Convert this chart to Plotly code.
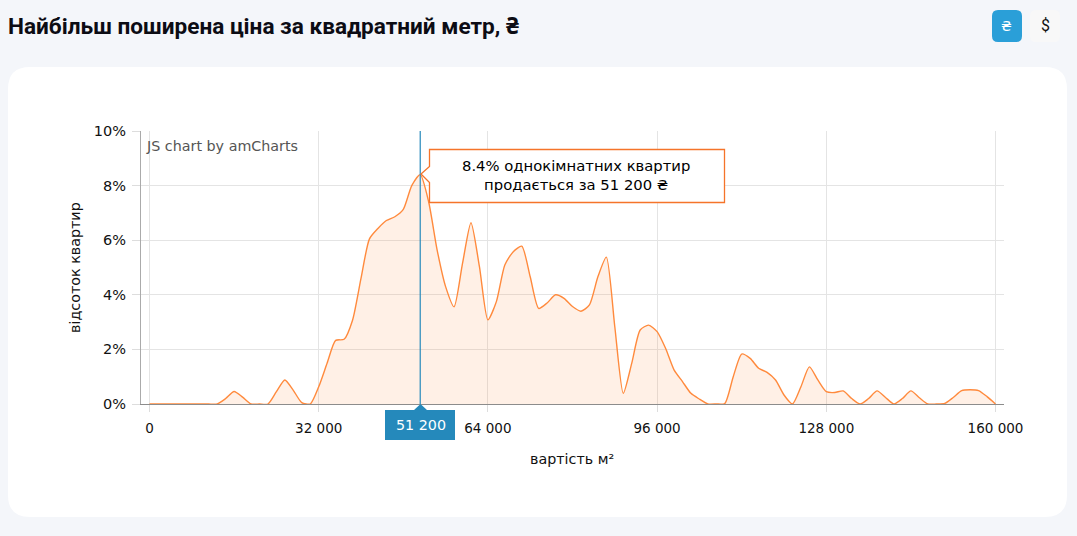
import plotly.graph_objects as go

W = 1077
H = 536

# price per m2, one point every 1600
prices = [i * 1600 for i in range(101)]
percents = [
    0, 0, 0, 0, 0, 0, 0, 0, 0, 0.2,
    0.46, 0.25, 0, 0, 0, 0.45, 0.88, 0.5, 0.05, 0,
    0.63, 1.5, 2.33, 2.37, 3.07, 4.6, 6.05, 6.43, 6.72, 6.86,
    7.13, 8.0, 8.4, 7.4, 5.64, 4.3, 3.56, 5.15, 6.64, 5.03,
    3.08, 3.75, 5.09, 5.58, 5.78, 4.66, 3.5, 3.7, 4.0, 3.87,
    3.57, 3.4, 3.63, 4.66, 5.38, 2.83, 0.39, 1.49, 2.71, 2.89,
    2.65, 2.04, 1.25, 0.82, 0.39, 0.18, 0, 0, 0.02, 1.0,
    1.83, 1.67, 1.31, 1.16, 0.88, 0.33, 0, 0.63, 1.36, 0.88,
    0.45, 0.42, 0.48, 0.2, 0, 0.2, 0.48, 0.24, 0, 0.2,
    0.48, 0.23, 0, 0, 0.02, 0.24, 0.49, 0.52, 0.49, 0.27,
    0,
]
x_ticks = [0, 32000, 64000, 96000, 128000, 160000]
x_labels = ["0", "32 000", "64 000", "96 000", "128 000", "160 000"]
y_ticks = [0, 2, 4, 6, 8, 10]
y_labels = ["0%", "2%", "4%", "6%", "8%", "10%"]
cursor_price = 51200
cursor_label = "51 200"
title = "Найбільш поширена ціна за квадратний метр, "
tooltip = "8.4% однокімнатних квартир<br>продається за 51 200 ₴"

ORANGE = "#ff8a3d"
BLUE = "#2589bb"
BG = "#f4f6fa"
FONT = "DejaVu Sans"


def px(x):
    return x / W


def py(y):
    return 1 - y / H


def rounded(x0, y0, x1, y1, r):
    # rounded box in page pixels, as a path in paper coordinates
    return (
        f"M {px(x0 + r)} {py(y0)} L {px(x1 - r)} {py(y0)} Q {px(x1)} {py(y0)} {px(x1)} {py(y0 + r)} "
        f"L {px(x1)} {py(y1 - r)} Q {px(x1)} {py(y1)} {px(x1 - r)} {py(y1)} "
        f"L {px(x0 + r)} {py(y1)} Q {px(x0)} {py(y1)} {px(x0)} {py(y1 - r)} "
        f"L {px(x0)} {py(y0 + r)} Q {px(x0)} {py(y0)} {px(x0 + r)} {py(y0)} Z"
    )


def poly(points):
    return "M " + " L ".join(f"{px(a)} {py(b)}" for a, b in points) + " Z"


def label(x, y, text, size=14.3, color="#111", family=FONT, anchor="center", **kw):
    return dict(xref="paper", yref="paper", x=px(x), y=py(y), text=text, showarrow=False,
                xanchor=anchor, yanchor="middle", font=dict(size=size, color=color, family=family), **kw)


fig = go.Figure()
fig.add_trace(go.Scatter(
    x=prices, y=percents, mode="lines",
    line=dict(color=ORANGE, width=1.4, shape="spline", smoothing=0.65),
    fill="tozeroy", fillcolor="rgba(255,130,50,0.12)", hoverinfo="skip",
))

shapes = [
    dict(type="path", path=rounded(8, 67, 1067, 517, 22), xref="paper", yref="paper",
         fillcolor="white", line_width=0, layer="below"),
    dict(type="path", path=rounded(992, 10, 1022, 42, 6), xref="paper", yref="paper",
         fillcolor="#2a9fd8", line_width=0, layer="below"),
    dict(type="path", path=rounded(1030, 10, 1060, 42, 6), xref="paper", yref="paper",
         fillcolor="#f8f8f8", line_width=0, layer="below"),
    dict(type="line", x0=cursor_price, x1=cursor_price, y0=0, y1=1, xref="x", yref="y domain",
         line=dict(color=BLUE, width=1.2)),
    dict(type="path", xref="paper", yref="paper", fillcolor="white", line=dict(color="#f5742a", width=1.3),
         path=poly([(429.5, 149.5), (724.5, 149.5), (724.5, 202.5), (429.5, 202.5), (429.5, 182.5), (421, 174), (429.5, 166.5)])),
    dict(type="path", xref="paper", yref="paper", fillcolor=BLUE, line_width=0,
         path=poly([(385, 410), (414, 410), (420.5, 404), (427, 410), (455, 410), (455, 440), (385, 440)])),
]

hryvnia = "<span style=\"font-family:'Noto Sans'\">₴</span>"
annotations = [
    label(5.5, 26, f"<b>{title}{hryvnia}</b>", size=22.6, color="#0c0c14", family="Roboto", anchor="left"),
    label(1007, 26, "₴", size=14, color="white"),
    label(1045, 26, "$", size=16, color="#111", family="Roboto"),
    label(144, 146, "JS chart by amCharts", color="#555", anchor="left"),
    label(576, 174.5, tooltip, size=14.8, color="#000"),
    label(420.5, 425, cursor_label, color="white"),
    label(75, 268, "відсоток квартир", textangle=-90),
    label(572, 459, "вартість м²"),
]

fig.update_layout(
    width=W, height=H, autosize=False,
    margin=dict(l=0, r=0, t=0, b=0, autoexpand=False),
    paper_bgcolor=BG, plot_bgcolor="rgba(0,0,0,0)",
    showlegend=False,
    font=dict(family=FONT, size=13.5, color="#111"),
    shapes=shapes, annotations=annotations,
    xaxis=dict(
        domain=[px(141), px(1004)], range=[-1608, 161608],
        tickvals=x_ticks, ticktext=x_labels, ticks="outside", ticklen=7, tickwidth=1, tickcolor="#ddd",
        ticklabelstandoff=5,
        showgrid=True, gridcolor="#e4e4e4", gridwidth=1, zeroline=False,
        showline=True, linecolor="#8c8c8c", linewidth=1, layer="above traces",
    ),
    yaxis=dict(
        domain=[py(404), py(131)], range=[0, 10],
        tickvals=y_ticks, ticktext=y_labels, ticks="outside", ticklen=8, tickwidth=1, tickcolor="#ddd",
        ticklabelstandoff=3, tickfont=dict(size=14.5),
        showgrid=True, gridcolor="#e4e4e4", gridwidth=1, zeroline=False,
        showline=True, linecolor="#aaa", linewidth=1, layer="below traces",
    ),
)

# body margin off and the plot pinned to the page corner
fit_page = """
document.body.style.margin = '0';
document.body.style.overflow = 'hidden';
var gd = document.getElementById('{plot_id}');
gd.style.position = 'fixed';
gd.style.left = '0';
gd.style.top = '0';
"""

fig.write_html("out.html", config={"displayModeBar": False}, post_script=fit_page)
